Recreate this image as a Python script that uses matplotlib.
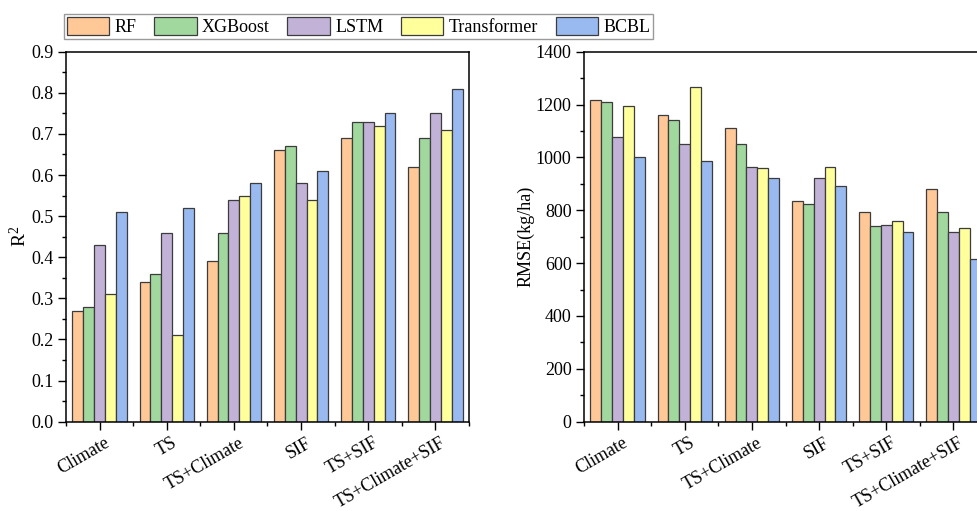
import matplotlib
matplotlib.use("Agg")
import matplotlib.pyplot as plt
import numpy as np
from matplotlib.ticker import MultipleLocator, FormatStrFormatter
from matplotlib.transforms import ScaledTranslation

plt.rcParams['font.family'] = ['Liberation Serif', 'DejaVu Serif']
plt.rcParams['mathtext.fontset'] = 'custom'
plt.rcParams['mathtext.rm'] = 'Liberation Serif'
plt.rcParams['mathtext.it'] = 'Liberation Serif:italic'

categories = ['Climate', 'TS', 'TS+Climate', 'SIF', 'TS+SIF', 'TS+Climate+SIF']
models = ['RF', 'XGBoost', 'LSTM', 'Transformer', 'BCBL']

r2_rf = [0.27, 0.34, 0.39, 0.66, 0.69, 0.62]
r2_xgb = [0.28, 0.36, 0.46, 0.67, 0.73, 0.69]
r2_lstm = [0.43, 0.46, 0.54, 0.58, 0.73, 0.75]
r2_trans = [0.31, 0.21, 0.55, 0.54, 0.72, 0.71]
r2_bcbl = [0.51, 0.52, 0.58, 0.61, 0.75, 0.81]

rmse_rf = [1216, 1162, 1110, 836, 793, 879]
rmse_xgb = [1208, 1140, 1051, 822, 742, 792]
rmse_lstm = [1076, 1049, 962, 921, 744, 716]
rmse_trans = [1196, 1267, 960, 962, 758, 734]
rmse_bcbl = [1000, 985, 923, 890, 716, 617]

colors = ['#FFC896', '#A0D89E', '#C2B2D8', '#FFFF9C', '#99B9F1']
edge = '#3c3c3c'

fig = plt.figure(figsize=(9.77, 5.11), dpi=100)
W, H = 977, 511
ax1 = fig.add_axes([66 / W, 1 - 421.7 / H, 403 / W, 370 / H])
ax2 = fig.add_axes([584 / W, 1 - 421.7 / H, 403 / W, 370 / H])

x = np.arange(len(categories))
bw = 0.162
offsets = (np.arange(5) - 2) * bw

r2_series = [r2_rf, r2_xgb, r2_lstm, r2_trans, r2_bcbl]
rmse_series = [rmse_rf, rmse_xgb, rmse_lstm, rmse_trans, rmse_bcbl]

handles = []
for ax, series in ((ax1, r2_series), (ax2, rmse_series)):
    for i, vals in enumerate(series):
        b = ax.bar(x + offsets[i], vals, bw, color=colors[i], edgecolor=edge,
                   linewidth=0.9, label=models[i], zorder=2)
        if ax is ax1:
            handles.append(b)
    ax.set_xlim(-0.5, 5.5)
    ax.set_xticks(x)
    ax.set_xticks(np.arange(-0.5, 6.0, 1.0), minor=True)
    ax.tick_params(axis='both', which='major', direction='out', length=5.5,
                   width=1, labelsize=13, colors='black')
    ax.tick_params(axis='both', which='minor', direction='out', length=3, width=1)
    ax.tick_params(top=False, right=False, which='both')
    ax.set_xticklabels(categories, rotation=30, rotation_mode='anchor',
                       ha='right', va='top', fontsize=13)
    for s in ax.spines.values():
        s.set_linewidth(1.1)
        s.set_color('black')

ax1.set_ylim(0, 0.9)
ax1.yaxis.set_major_locator(MultipleLocator(0.1))
ax1.yaxis.set_minor_locator(MultipleLocator(0.05))
ax1.yaxis.set_major_formatter(FormatStrFormatter('%.1f'))
ax1.set_ylabel('R$^{2}$', fontsize=14, labelpad=1)

ax2.set_ylim(0, 1400)
ax2.yaxis.set_major_locator(MultipleLocator(200))
ax2.yaxis.set_minor_locator(MultipleLocator(100))
ax2.set_ylabel('RMSE(kg/ha)', fontsize=13, labelpad=0.5)

leg = fig.legend(handles, models, loc='upper left',
                 bbox_to_anchor=(64 / W, 1 - 14 / H), ncol=5, fontsize=13,
                 frameon=True, fancybox=False, framealpha=1,
                 handlelength=2.35, handleheight=1.2, handletextpad=0.3,
                 columnspacing=0.97, borderpad=0.15, borderaxespad=0)
leg.get_frame().set_edgecolor('#9a9a9a')
leg.get_frame().set_linewidth(1.0)

# shift rotated category labels (after all tick_params calls)
for ax in (ax1, ax2):
    for lab in ax.get_xticklabels():
        lab.set_transform(lab.get_transform() +
                          ScaledTranslation(5 / 100, 0 / 100, fig.dpi_scale_trans))

fig.savefig('out.png', dpi=100)
